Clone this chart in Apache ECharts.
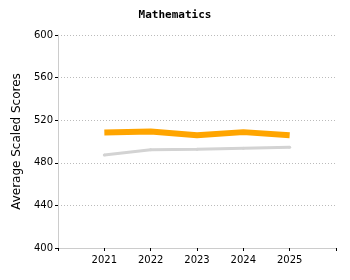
<!DOCTYPE html>
<html><head><meta charset="utf-8">
<script src="https://cdn.jsdelivr.net/npm/echarts@6/dist/echarts.min.js"></script>
<style>html,body{margin:0;padding:0;background:#fff}#c{width:350px;height:280px}</style>
</head><body><div id="c"></div>
<script>
const categories = ['', '2021', '2022', '2023', '2024', '2025', ''];
const seriesA = [null, 508.5, 509.4, 505.8, 508.8, 505.8, null];
const seriesB = [null, 487.4, 492.2, 492.8, 493.7, 494.6, null];
const yTicks = { min: 400, max: 600, interval: 40 };

const chart = echarts.init(document.getElementById('c'), null, {renderer: 'canvas'});
chart.setOption({
  animation: false,
  title: { text: 'Mathematics', left: 'center', top: 5,
    textStyle: { fontFamily: 'DejaVu Sans Mono', fontSize: 11, fontWeight: 'bold', color: '#000' } },
  grid: { left: 58, right: 14, top: 35, bottom: 32 },
  xAxis: {
    type: 'category', data: categories, boundaryGap: false,
    axisLine: { lineStyle: { color: '#ccc', width: 1 } },
    axisTick: { show: true, length: 3, lineStyle: { color: '#000' }, interval: 0 },
    axisLabel: { fontFamily: 'DejaVu Sans', fontSize: 10, color: '#000', margin: 7, interval: 0 },
    splitLine: { show: false }
  },
  yAxis: {
    type: 'value', min: yTicks.min, max: yTicks.max, interval: yTicks.interval,
    name: 'Average Scaled Scores', nameLocation: 'middle', nameGap: 34,
    nameTextStyle: { fontFamily: 'DejaVu Sans', fontSize: 12, color: '#000' },
    axisLine: { show: true, lineStyle: { color: '#ccc', width: 1 } },
    axisTick: { show: true, length: 3, lineStyle: { color: '#000' } },
    axisLabel: { fontFamily: 'DejaVu Sans', fontSize: 10, color: '#000', margin: 5 },
    splitLine: { show: true, lineStyle: { color: '#bbb', type: [1, 2], width: 1 } }
  },
  series: [
    { type: 'line', data: seriesB, symbol: 'circle', symbolSize: 3, showSymbol: true,
      lineStyle: { color: '#d3d3d3', width: 3 }, itemStyle: { color: '#d3d3d3' } },
    { type: 'line', data: seriesA, symbol: 'none',
      lineStyle: { color: '#FFA500', width: 6 }, itemStyle: { color: '#FFA500' } }
  ]
});
</script></body></html>
